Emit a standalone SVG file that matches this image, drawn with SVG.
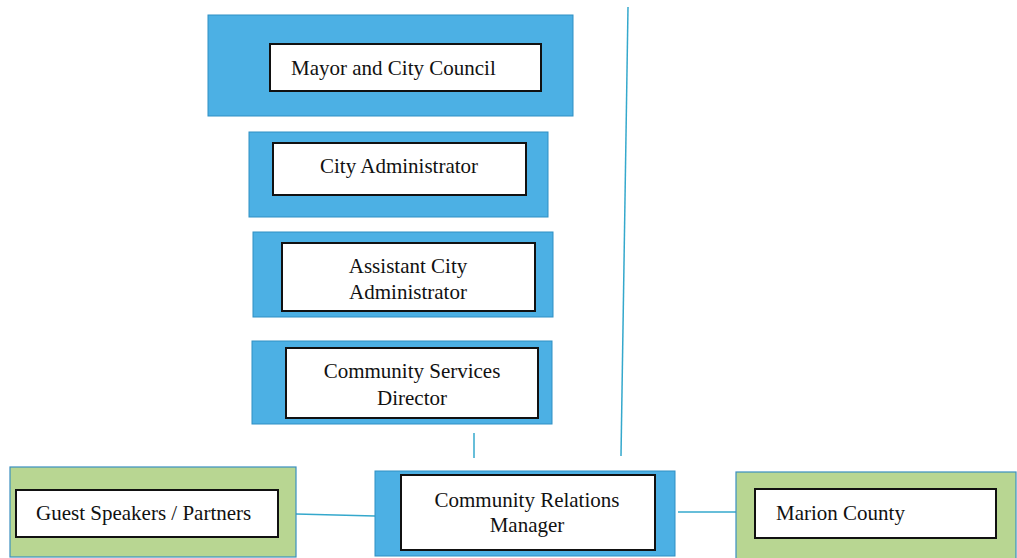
<svg xmlns="http://www.w3.org/2000/svg" width="1017" height="558" viewBox="0 0 1017 558">
  <style>
    .blue { fill: #4cb0e4; stroke: #2f8fc4; stroke-width: 1; }
    .green { fill: #b8d692; stroke: #3a8fc0; stroke-width: 1.2; }
    .inner { fill: #ffffff; stroke: #111111; stroke-width: 2; }
    .label { font-family: "Liberation Serif", "Times New Roman", serif; font-size: 21px; fill: #111111; }
    .mid { text-anchor: middle; }
    .link { stroke: #34a8cc; stroke-width: 1.5; fill: none; }
  </style>
  <rect width="1017" height="558" fill="#ffffff"/>

  <g id="connectors">
    <line class="link" x1="628" y1="7" x2="621" y2="456"/>
    <line class="link" x1="474" y1="433" x2="474" y2="458"/>
    <line class="link" x1="296" y1="514" x2="375" y2="516"/>
    <line class="link" x1="678" y1="512" x2="736" y2="512"/>
  </g>

  <g id="mayor-council">
    <rect class="blue" x="208" y="15" width="365" height="101"/>
    <rect class="inner" x="270" y="44" width="271" height="47"/>
    <text class="label" x="291" y="75">Mayor and City Council</text>
  </g>

  <g id="city-administrator">
    <rect class="blue" x="249" y="132" width="299" height="85"/>
    <rect class="inner" x="273" y="143" width="253" height="52"/>
    <text class="label mid" x="399" y="173">City Administrator</text>
  </g>

  <g id="assistant-city-administrator">
    <rect class="blue" x="253" y="232" width="300" height="85"/>
    <rect class="inner" x="282" y="243" width="253" height="68"/>
    <text class="label mid" x="408" y="273">Assistant City</text>
    <text class="label mid" x="408" y="299">Administrator</text>
  </g>

  <g id="community-services-director">
    <rect class="blue" x="252" y="341" width="300" height="83"/>
    <rect class="inner" x="286" y="348" width="252" height="70"/>
    <text class="label mid" x="412" y="378">Community Services</text>
    <text class="label mid" x="412" y="405">Director</text>
  </g>

  <g id="guest-speakers-partners">
    <rect class="green" x="10" y="467" width="286" height="90"/>
    <rect class="inner" x="16" y="490" width="262" height="47"/>
    <text class="label" x="36" y="520">Guest Speakers / Partners</text>
  </g>

  <g id="community-relations-manager">
    <rect class="blue" x="375" y="471" width="300" height="85"/>
    <rect class="inner" x="401" y="475" width="254" height="75"/>
    <text class="label mid" x="527" y="507">Community Relations</text>
    <text class="label mid" x="527" y="532">Manager</text>
  </g>

  <g id="marion-county">
    <rect class="green" x="736" y="472" width="280" height="90"/>
    <rect class="inner" x="755" y="489" width="241" height="49"/>
    <text class="label" x="776" y="520">Marion County</text>
  </g>
</svg>
